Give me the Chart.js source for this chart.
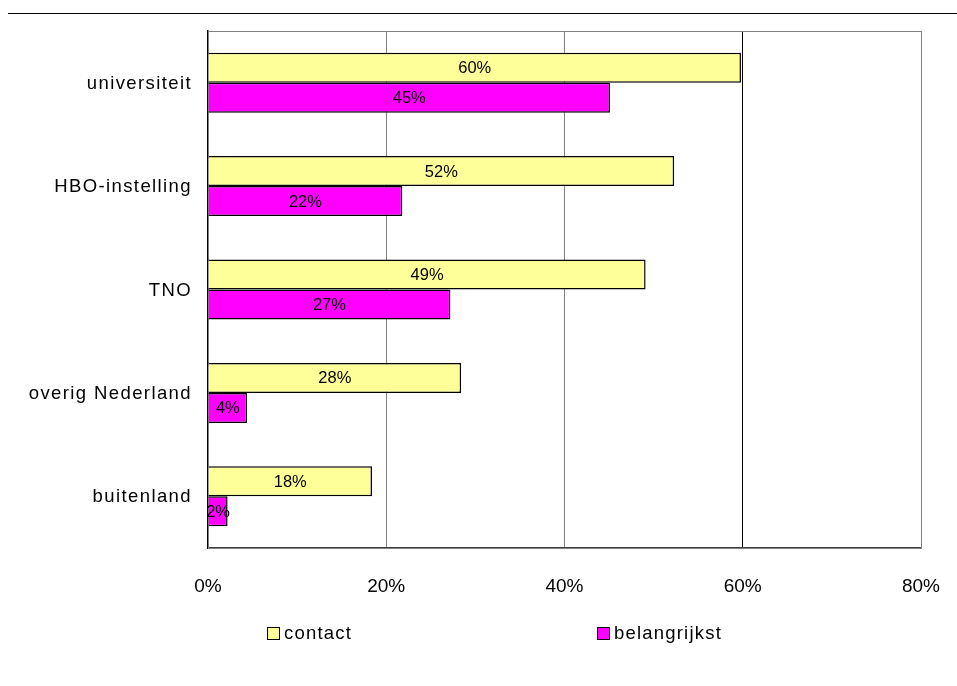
<!DOCTYPE html>
<html>
<head>
<meta charset="utf-8">
<script src="https://cdn.jsdelivr.net/npm/chart.js@4"></script>
<style>
  html, body { margin: 0; padding: 0; background: #fff; }
  #wrap { position: relative; width: 957px; height: 686px; font-family: 'Liberation Sans', Arial, sans-serif; }
  #topline { position: absolute; left: 8px; right: 0; top: 13px; border-top: 1px solid #000; }
  canvas { position: absolute; left: 0; top: 0; }
  .leg { position: absolute; top: 622px; font-size: 18.5px; letter-spacing: 1.2px; color: #000; display: flex; align-items: center; line-height: 22px; }
  .leg span.box { display: inline-block; width: 11px; height: 11px; border: 1px solid #000; margin-right: 4px; }
</style>
</head>
<body>
<div id="wrap">
  <div id="topline"></div>
  <canvas id="chart" width="957" height="686"></canvas>
  <div id="legend"></div>
</div>
<script>
const categories = ['universiteit', 'HBO-instelling', 'TNO', 'overig Nederland', 'buitenland'];
const contactValues = [59.8, 52.3, 49.1, 28.4, 18.4];
const belangrijkstValues = [45.1, 21.8, 27.2, 4.4, 2.2];
const xTicks = [0, 20, 40, 60, 80];
const seriesNames = ['contact', 'belangrijkst'];
const seriesColors = ['#FFFF99', '#FF00FF'];

const FONT = "'Liberation Sans', Arial, sans-serif";

// value labels in the middle of each bar
const barLabels = {
    id: 'barLabels',
    afterDatasetsDraw(chart) {
        const ctx = chart.ctx;
        ctx.save();
        ctx.font = '16.5px ' + FONT;
        ctx.fillStyle = '#000';
        ctx.textAlign = 'center';
        ctx.textBaseline = 'middle';
        chart.data.datasets.forEach((ds, i) => {
            chart.getDatasetMeta(i).data.forEach((bar, j) => {
                const cx = (bar.x + bar.base) / 2;
                ctx.fillText(Math.round(ds.data[j]) + '%', cx, bar.y + 1);
            });
        });
        ctx.restore();
    }
};

// category names, slightly spaced out like the original
const catLabels = {
    id: 'catLabels',
    afterDraw(chart) {
        const ctx = chart.ctx;
        const y = chart.scales.y;
        ctx.save();
        ctx.font = '18.5px ' + FONT;
        ctx.letterSpacing = '1.4px';
        ctx.fillStyle = '#000';
        ctx.textAlign = 'right';
        ctx.textBaseline = 'middle';
        categories.forEach((c, i) => {
            ctx.fillText(c, 192, y.getPixelForValue(i) + 1);
        });
        ctx.restore();
    }
};

// gray frame around the plot area
const frame = {
    id: 'frame',
    beforeDatasetsDraw(chart) {
        const a = chart.chartArea;
        const ctx = chart.ctx;
        ctx.save();
        ctx.strokeStyle = '#808080';
        ctx.lineWidth = 1;
        ctx.strokeRect(a.left + 0.5, a.top + 0.5, a.right - a.left, a.bottom - a.top);
        ctx.restore();
    }
};

new Chart(document.getElementById('chart'), {
    type: 'bar',
    data: {
        labels: categories,
        datasets: [
            { label: seriesNames[0], data: contactValues, backgroundColor: seriesColors[0], borderColor: '#000', borderWidth: 1.5, barPercentage: 1, categoryPercentage: 0.58 },
            { label: seriesNames[1], data: belangrijkstValues, backgroundColor: seriesColors[1], borderColor: '#000', borderWidth: 1.5, barPercentage: 1, categoryPercentage: 0.58 }
        ]
    },
    options: {
        indexAxis: 'y',
        responsive: false,
        animation: false,
        layout: { padding: { top: 31, right: 36, bottom: 0, left: 0 } },
        plugins: { legend: { display: false }, tooltip: { enabled: false } },
        scales: {
            x: {
                min: 0, max: 80,
                afterBuildTicks: s => { s.ticks = xTicks.map(v => ({ value: v })); },
                afterFit: s => { s.height = 686 - 548; s.paddingRight = 0; s.paddingLeft = 0; },
                ticks: { callback: v => v + '%', padding: 27, color: '#000', font: { family: FONT, size: 19 } },
                grid: { drawTicks: false, color: c => c.tick && c.tick.value === 60 ? '#000' : '#808080', lineWidth: 1 },
                border: { color: '#404040', width: 1.5 }
            },
            y: {
                afterFit: s => { s.width = 208; },
                ticks: { display: false },
                grid: { display: false, drawTicks: false },
                border: { color: '#000', width: 1.5 }
            }
        }
    },
    plugins: [frame, barLabels, catLabels]
});

// legend below the chart
const legendPos = [267, 597];
const legend = document.getElementById('legend');
seriesNames.forEach((name, i) => {
    const d = document.createElement('div');
    d.className = 'leg';
    d.style.left = legendPos[i] + 'px';
    d.innerHTML = '<span class="box" style="background:' + seriesColors[i] + '"></span>' + name;
    legend.appendChild(d);
});
</script>
</body>
</html>
